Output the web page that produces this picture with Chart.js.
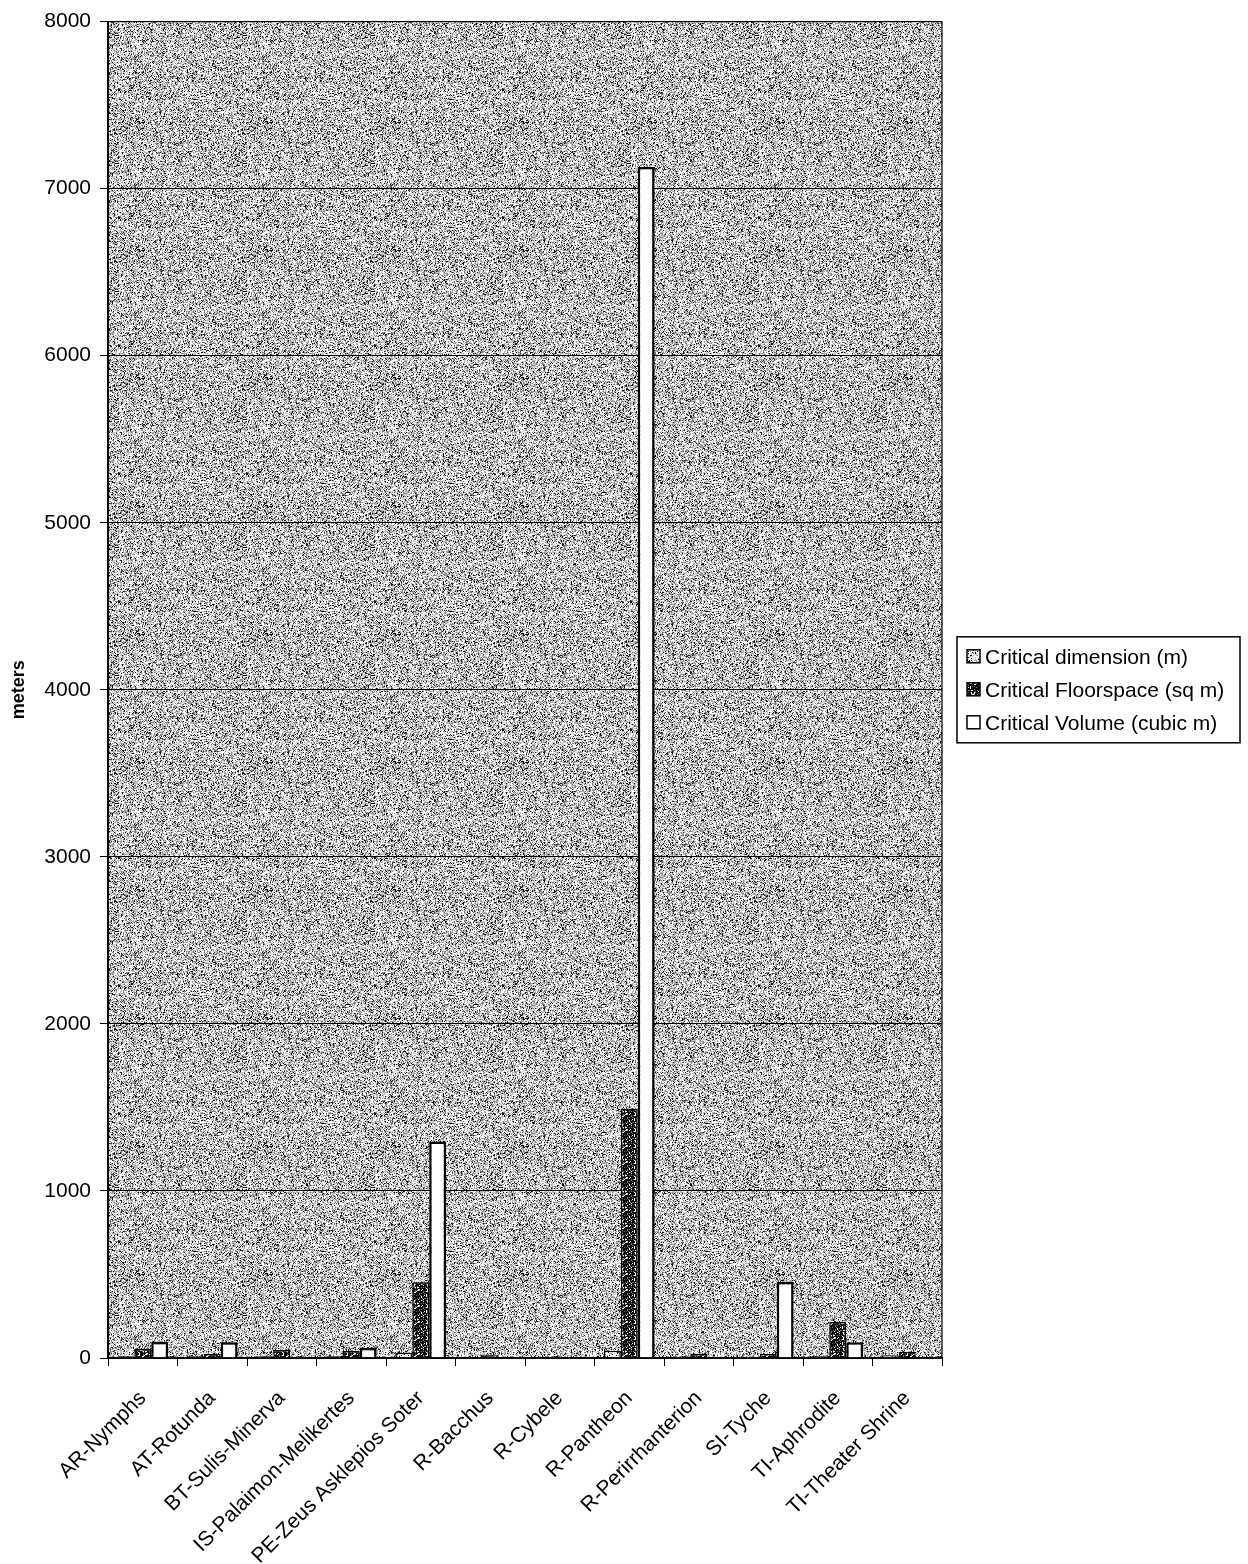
<!DOCTYPE html>
<html>
<head>
<meta charset="utf-8">
<script src="https://cdn.jsdelivr.net/npm/chart.js@4"></script>
<style>
  html, body { margin: 0; padding: 0; background: #fff; }
  #wrap { width: 1248px; height: 1564px; position: relative; }
</style>
</head>
<body>
<div id="wrap"><canvas id="chart" width="1248" height="1564"></canvas></div>
<script>
// categories and series values
const categories = ["AR-Nymphs", "AT-Rotunda", "BT-Sulis-Minerva", "IS-Palaimon-Melikertes",
  "PE-Zeus Asklepios Soter", "R-Bacchus", "R-Cybele", "R-Pantheon", "R-Perirrhanterion",
  "SI-Tyche", "TI-Aphrodite", "TI-Theater Shrine"];
const seriesNames = ["Critical dimension (m)", "Critical Floorspace (sq m)", "Critical Volume (cubic m)"];
const criticalDimension = [10, 10, 10, 10, 32, 5, 4, 43, 8, 8, 12, 16];
const criticalFloorspace = [54, 24, 48, 42, 453, 16, 7, 1493, 24, 24, 215, 38];
const criticalVolume = [96, 95, 0, 60, 1296, 0, 0, 7130, 0, 455, 95, 0];
const yTicks = [0, 1000, 2000, 3000, 4000, 5000, 6000, 7000, 8000];

const FONT = "'Liberation Sans', Arial, sans-serif";

// deterministic pixel hash for the stipple textures
function hash(x, y, s) {
  let h = Math.imul(x, 374761393) + Math.imul(y, 668265263) + Math.imul(s, 144665);
  h = Math.imul(h ^ (h >>> 13), 1274126177);
  h ^= h >>> 16;
  return (h >>> 0) % 1000 / 1000;
}

function stipple(size, seed, shades) {
  const c = document.createElement("canvas");
  c.width = size; c.height = size;
  const g = c.getContext("2d");
  const img = g.createImageData(size, size);
  for (let y = 0; y < size; y++) {
    for (let x = 0; x < size; x++) {
      const r = hash(x, y, seed);
      let v = shades[shades.length - 1][1];
      for (const [p, col] of shades) { if (r < p) { v = col; break; } }
      const i = (y * size + x) * 4;
      img.data[i] = img.data[i + 1] = img.data[i + 2] = v;
      img.data[i + 3] = 255;
    }
  }
  g.putImageData(img, 0, 0);
  return g.createPattern(c, "repeat");
}

const ctx = document.getElementById("chart").getContext("2d");
const plotFill = stipple(128, 1, [[0.12, 20], [0.32, 125], [0.6, 190], [1, 252]]);
const dimFill = stipple(16, 2, [[0.12, 0], [0.3, 170], [1, 245]]);
const floorFill = stipple(16, 3, [[0.7, 10], [0.85, 120], [1, 255]]);

const plotBackground = {
  id: "plotBackground",
  beforeDraw(chart) {
    const a = chart.chartArea, c = chart.ctx;
    c.save();
    c.fillStyle = plotFill;
    c.fillRect(a.left, a.top, a.right - a.left, a.bottom - a.top);
    c.restore();
  },
  afterDraw(chart) {
    const a = chart.chartArea, c = chart.ctx;
    c.save();
    c.strokeStyle = "#000";
    c.lineWidth = 1.2;
    c.strokeRect(a.left, a.top, a.right - a.left, a.bottom - a.top);
    // legend
    const x0 = a.right + 15, w = 283, h = 106;
    const y0 = (a.top + a.bottom) / 2 - h / 2;
    c.fillStyle = "#fff";
    c.fillRect(x0, y0, w, h);
    c.lineWidth = 1.5;
    c.strokeRect(x0, y0, w, h);
    c.font = "21px " + FONT;
    c.textBaseline = "middle";
    chart.data.datasets.forEach((ds, i) => {
      const cy = y0 + 20 + i * 33;
      c.fillStyle = ds.backgroundColor;
      c.fillRect(x0 + 10, cy - 7, 13, 13);
      c.lineWidth = 1.5;
      c.strokeRect(x0 + 10, cy - 7, 13, 13);
      c.fillStyle = "#000";
      c.fillText(ds.label, x0 + 28, cy + 1);
    });
    c.restore();
  }
};

new Chart(ctx, {
  type: "bar",
  data: {
    labels: categories,
    datasets: [
      { label: seriesNames[0], data: criticalDimension, backgroundColor: dimFill, borderColor: "#000", borderWidth: 1.5 },
      { label: seriesNames[1], data: criticalFloorspace, backgroundColor: floorFill, borderColor: "#000", borderWidth: 1.5 },
      { label: seriesNames[2], data: criticalVolume, backgroundColor: "#fff", borderColor: "#000", borderWidth: 2.5 }
    ]
  },
  options: {
    responsive: false,
    animation: false,
    layout: { padding: { top: 17, right: 306, left: 0, bottom: 0 } },
    categoryPercentage: 0.73,
    barPercentage: 1.0,
    plugins: {
      legend: { display: false },
      tooltip: { enabled: false }
    },
    scales: {
      x: {
        afterFit(scale) { scale.height = 206; },
        grid: { offset: true, drawOnChartArea: false, color: "#000", tickLength: 8 },
        border: { color: "#000", width: 1.5 },
        ticks: {
          color: "#000",
          padding: 20,
          maxRotation: 45, minRotation: 45,
          autoSkip: false,
          font: { family: FONT, size: 21 }
        }
      },
      y: {
        min: 0, max: 8000,
        afterFit(scale) { scale.width = 108; },
        afterBuildTicks(scale) { scale.ticks = yTicks.map(v => ({ value: v })); },
        grid: { color: "#000", lineWidth: 1, tickLength: 8 },
        border: { color: "#000", width: 2 },
        ticks: {
          color: "#000",
          padding: 9,
          font: { family: FONT, size: 21 },
          callback: v => String(v)
        },
        title: {
          display: true,
          text: "meters",
          color: "#000",
          padding: { top: 8, bottom: 0 },
          font: { family: FONT, size: 18, weight: "bold" }
        }
      }
    }
  },
  plugins: [plotBackground]
});
</script>
</body>
</html>
